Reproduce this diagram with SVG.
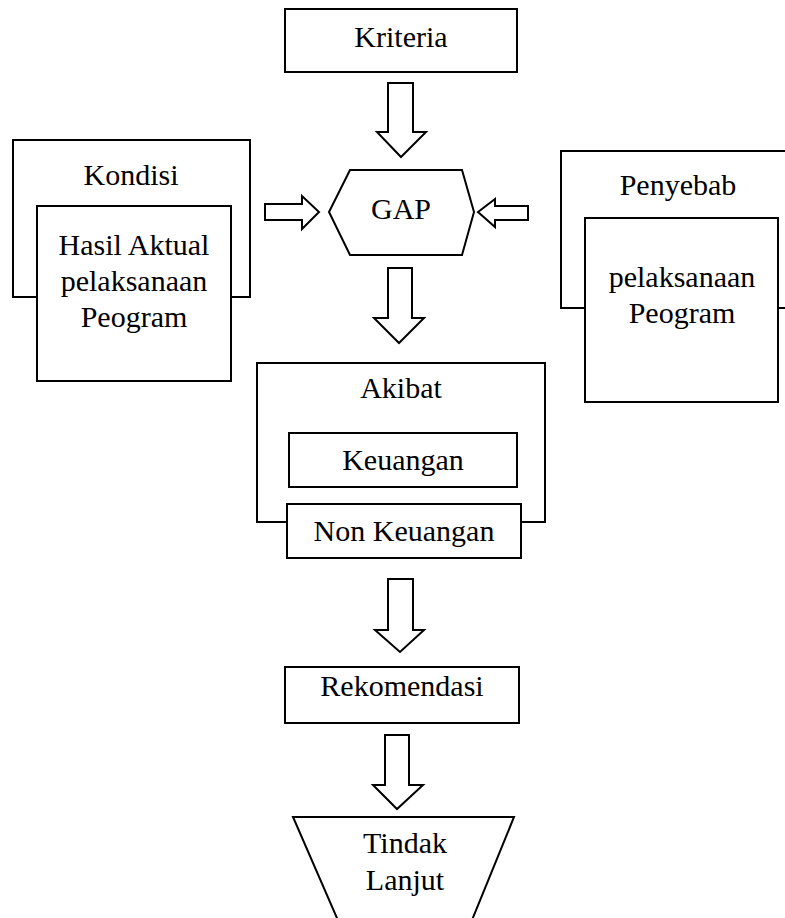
<svg xmlns="http://www.w3.org/2000/svg" width="785" height="918" viewBox="0 0 785 918">
<style>
.b{fill:#fff;stroke:#000;stroke-width:2}
.a{fill:#fff;stroke:#000;stroke-width:2;stroke-linejoin:miter}
.t{font-family:'Liberation Serif','Times New Roman',Times,'DejaVu Serif',serif;font-size:30px;fill:#000;text-anchor:middle}
</style>
<rect width="785" height="918" fill="#fff"/>
<g id="kriteria"><rect class="b" x="285" y="9" width="232" height="63"/><text class="t" x="401" y="47">Kriteria</text></g>
<g id="kondisi">
<rect class="b" x="13" y="140" width="237" height="157"/><text class="t" x="131" y="185">Kondisi</text>
<rect class="b" x="37" y="206" width="194" height="175"/>
<text class="t" x="134" y="255">Hasil Aktual</text><text class="t" x="134" y="291">pelaksanaan</text><text class="t" x="134" y="327">Peogram</text>
</g>
<g id="gap"><polygon class="b" points="350,170 462,170 474,212 462,255 350,255 329,212"/><text class="t" x="401" y="219">GAP</text></g>
<g id="penyebab">
<rect class="b" x="561" y="151" width="240" height="157"/><text class="t" x="678" y="195">Penyebab</text>
<rect class="b" x="585" y="218" width="193" height="184"/>
<text class="t" x="682" y="287">pelaksanaan</text><text class="t" x="682" y="323">Peogram</text>
</g>
<g id="akibat">
<rect class="b" x="257" y="363" width="288" height="159"/><text class="t" x="401" y="398">Akibat</text>
<rect class="b" x="289" y="433" width="228" height="54"/><text class="t" x="403" y="470">Keuangan</text>
<rect class="b" x="287" y="504" width="234" height="54"/><text class="t" x="404" y="541">Non Keuangan</text>
</g>
<g id="rekomendasi"><rect class="b" x="285" y="667" width="234" height="56"/><text class="t" x="402" y="696">Rekomendasi</text></g>
<g id="tindak-lanjut"><polygon class="b" points="293,817 514,817 470,925 340,925"/><text class="t" x="405" y="853">Tindak</text><text class="t" x="405" y="890">Lanjut</text></g>
<g id="connectors">
<polygon class="a" points="388,83 413,83 413,132 426,132 401,157 377,132 388,132"/>
<polygon class="a" points="265,204 302,204 302,196 319,212 302,229 302,220 265,220"/>
<polygon class="a" points="528,206 495,206 495,199 478,212 495,227 495,220 528,220"/>
<polygon class="a" points="388,268 412,268 412,318 424,318 399,343 374,318 388,318"/>
<polygon class="a" points="388,579 413,579 413,630 424,630 400,652 375,630 388,630"/>
<polygon class="a" points="385,735 409,735 409,785 423,785 397,809 373,785 385,785"/>
</g>
</svg>
